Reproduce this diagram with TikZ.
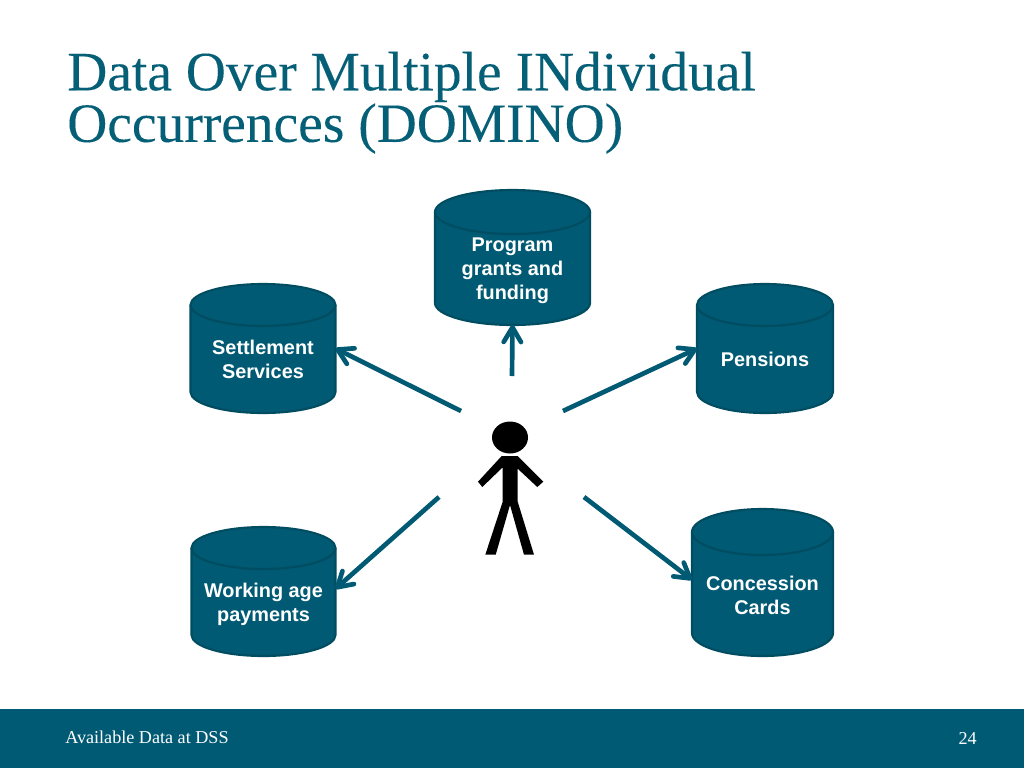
\documentclass[tikz,border=0pt]{standalone}
\usepackage{fontspec}
\setmainfont{Liberation Serif}
\newfontfamily\titlefont[FakeBold=0.12]{Liberation Serif}
\newfontfamily\labelfont{Liberation Sans}
\usetikzlibrary{arrows.meta,shapes.geometric}
\definecolor{teal}{HTML}{005A73}
\definecolor{tealdark}{HTML}{004C61}
\definecolor{titleteal}{HTML}{055F76}
\tikzset{
  cylbody/.style={inner sep=0pt,outer sep=0pt},
  cylshape/.style={fill=teal,draw=tealdark,line width=1.6pt,line join=round},
  cylrim/.style={draw=tealdark,line width=1.6pt},
  cyltext/.style={text=white,font=\labelfont\bfseries\fontsize{14.9}{18}\selectfont,align=center,inner sep=0pt},
  link/.style={draw=teal,line width=3.5pt,-{Straight Barb[length=11pt,width=13pt,line width=3.5pt,round]}},
  titletext/.style={text=titleteal,font=\titlefont\fontsize{41.6}{37.5}\selectfont,align=left,inner sep=0pt,anchor=north west},
  foottext/.style={text=white,font=\fontsize{13.6}{15}\selectfont,inner sep=0pt},
}
% name, centre x, centre y, width, height, rim radius (px), text drop (pt), text
\newcommand{\cylnode}[8]{%
  \pgfmathsetmacro{\myw}{#4*0.75}\pgfmathsetmacro{\myh}{#5*0.75}%
  \pgfmathsetmacro{\myrx}{#4*0.375}\pgfmathsetmacro{\myry}{#6*0.75}%
  \node[cylbody,minimum width=\myw pt,minimum height=\myh pt] (#1) at (#2,#3) {};
  \draw[cylshape] ([yshift=-\myry pt]#1.north west) -- ([yshift=\myry pt]#1.south west)
    arc[start angle=180,end angle=360,x radius=\myrx pt,y radius=\myry pt]
    -- ([yshift=-\myry pt]#1.north east)
    arc[start angle=0,end angle=180,x radius=\myrx pt,y radius=\myry pt] -- cycle;
  \draw[cylrim] ([yshift=-\myry pt]#1.north west)
    arc[start angle=180,end angle=360,x radius=\myrx pt,y radius=\myry pt];
  \node[cyltext] (#1-text) at ([yshift=-#7pt]#1.center) {#8};
}
\begin{document}
\begin{tikzpicture}[x=0.75pt,y=-0.75pt]
\useasboundingbox (0,0) rectangle (1024,768);
\fill[white] (0,0) rectangle (1024,768);
\fill[teal] (0,709) rectangle (1024,768);
\node[titletext] (title) at (67,51.5) {Data Over Multiple INdividual\\Occurrences (DOMINO)};
\node[foottext,anchor=base west] (footer) at (65,743) {Available Data at DSS};
\node[foottext,anchor=base east] (page) at (977,744) {24};

\cylnode{program}{512.5}{257.5}{155}{135}{22}{10.3}{Program\\grants and\\funding}
\cylnode{settle}{263}{348.5}{145}{129}{21}{8.5}{Settlement\\Services}
\cylnode{pensions}{765}{348.5}{136}{129}{21}{8.5}{Pensions}
\cylnode{working}{263.5}{591.5}{144}{129}{21}{9.5}{Working age\\payments}
\cylnode{concession}{762.5}{582.5}{141}{147}{23}{9.5}{Concession\\Cards}

% stick figure
\node[fill=black,ellipse,minimum width=27pt,minimum height=24pt,inner sep=0pt] (head) at (510,437.5) {};
\fill[black] (501.7,456) -- (517.7,456) -- (543.3,481.7) -- (537.3,487) -- (517.7,468.7)
  -- (517.7,501.7) -- (534,554.7) -- (524,554.7) -- (510,505) -- (495.7,554.7) -- (485.3,554.7)
  -- (502.7,501.7) -- (502.7,467.3) -- (482.3,487) -- (478,481.7) -- cycle;
\coordinate (person) at (512,437);

\coordinate (fromSettle) at ([shift={(-51,-26)}]person);
\coordinate (fromProgram) at ([shift={(0,-61)}]person);
\coordinate (fromPensions) at ([shift={(51,-26)}]person);
\coordinate (fromWorking) at ([shift={(-73,60)}]person);
\coordinate (fromConcession) at ([shift={(72,60)}]person);

\draw[link] (fromSettle) -- (settle.east);
\draw[link] (fromProgram) -- (program.south);
\draw[link] (fromPensions) -- (pensions.west);
\draw[link] (fromWorking) -- ([yshift=2pt]working.east);
\draw[link] (fromConcession) -- ([yshift=2pt]concession.west);
\end{tikzpicture}
\end{document}
